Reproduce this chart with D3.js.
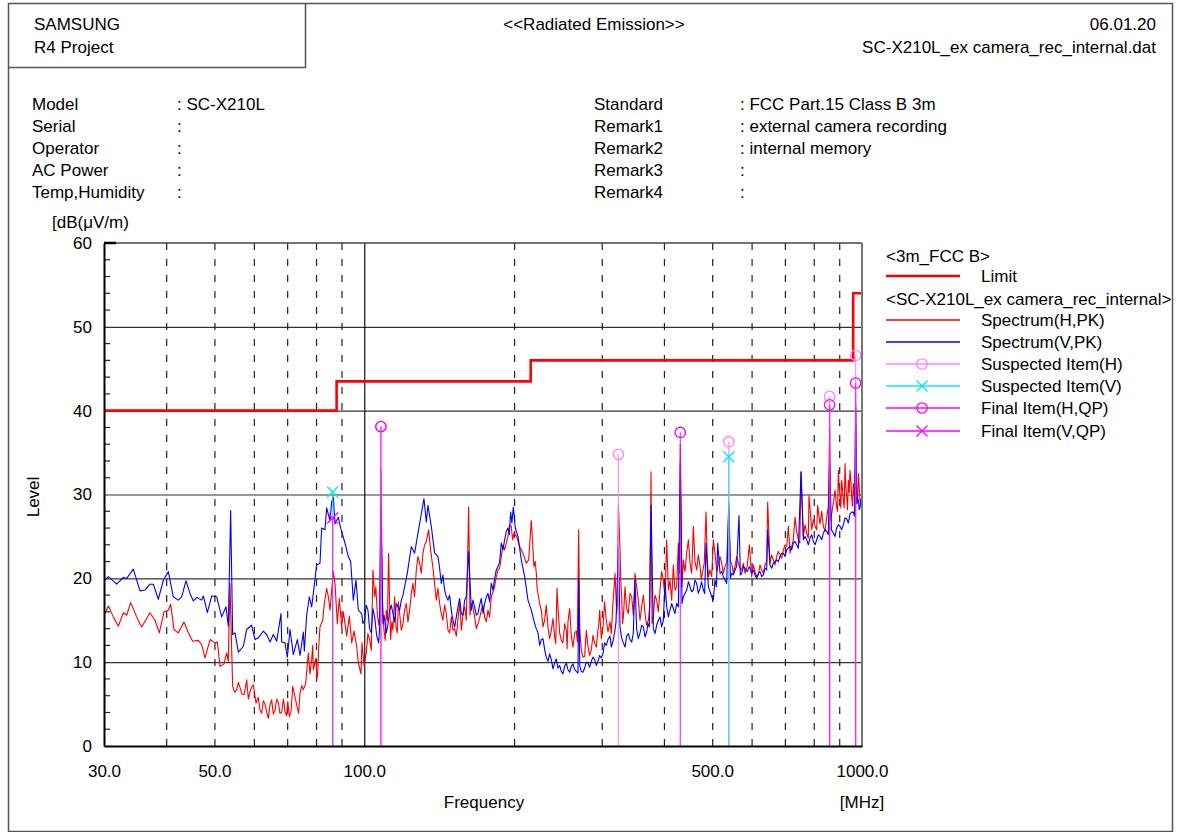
<!DOCTYPE html>
<html><head><meta charset="utf-8">
<script src="https://cdn.jsdelivr.net/npm/d3@7"></script>
<style>
html,body{margin:0;padding:0;background:#fff;}
svg text{font-family:"Liberation Sans",Arial,sans-serif;font-size:17px;fill:#000;}
</style></head>
<body>
<svg id="c" width="1180" height="832"></svg>
<script>
// ---------- data ----------
const limitFreq  = [30, 88, 88, 216, 216, 960, 960, 1000];
const limitLevel = [40, 40, 43.5, 43.5, 46, 46, 54, 54];

const yTickValues = [0, 10, 20, 30, 40, 50, 60];
const xTickValues = [30, 50, 100, 500, 1000];
const dashedGridFreq = [40, 50, 60, 70, 80, 90, 200, 300, 400, 500, 600, 700, 800, 900];
const solidGridFreq = [100];

// Spectrum(H,PK) [MHz, dB(uV/m)]
const spectrumH = [
[30.14,15.8],[30.61,16.7],[31.32,15.4],[32.06,14.3],[32.81,15.9],[33.32,15.6],[33.94,17.1],[34.89,15.4],[35.71,14.2],[37.11,15.9],[37.98,15.0],[38.75,13.5],[39.60,16.0],[40.40,16.2],[40.84,16.9],[41.47,13.9],[42.31,13.5],[43.43,14.8],[44.32,13.5],[45.21,12.5],[46.41,12.6],[47.13,12.1],[47.87,10.5],[48.99,12.7],[50.13,12.3],[50.68,12.4],[51.31,9.5],[52.27,9.8],[52.91,11.1],[53.32,10.1],[53.73,19.4],[54.40,7.1],[55.42,6.7],[56.28,7.0],[57.33,6.1],[58.04,7.9],[58.95,6.5],[59.86,7.3],[60.61,5.1],[61.74,4.3],[62.70,5.4],[64.16,3.3],[65.16,5.5],[66.17,4.3],[67.20,5.2],[68.25,4.0],[69.31,4.1],[70.71,3.5],[71.81,7.1],[73.15,4.9],[74.29,6.3],[75.44,6.7],[76.26,7.5],[77.21,11.1],[78.41,10.3],[79.01,9.1],[79.99,10.5],[80.62,8.7],[81.48,14.2],[82.50,15.0],[83.14,17.0],[84.04,18.8],[84.69,17.8],[85.34,16.2],[86.67,20.8],[87.34,19.4],[88.29,14.6],[89.11,17.6],[90.08,14.2],[90.78,16.0],[92.19,13.1],[93.33,15.5],[94.35,12.3],[95.37,13.7],[96.56,11.9],[97.30,9.9],[98.51,8.6],
[54.9,6.4],[55.85,7.6],[56.8,6.2],[57.7,6.9],[58.5,5.6],[59.4,7.0],[61.2,5.8],[62.2,3.9],[63.2,5.0],[63.7,4.0],[64.66,4.9],[65.67,3.8],[66.69,5.6],[67.7,3.9],[68.8,5.6],[69.8,3.6],[70.2,5.3],[71.3,4.2],[72.5,6.0],[73.8,3.9],[74.9,7.2],[76.7,9.2],[77.8,8.6],[78.8,12.0],[80.3,7.9],[81.0,11.8],
[98.94,12.3],[100.95,11.1],[102.52,12.7],[104.11,21.0],[104.92,17.8],[106.22,15.8],[107.37,15.4],[108.0,33.0],[109.55,13.8],[110.73,16.2],[111.94,23.0],[112.98,12.7],[114.20,13.8],[115.09,17.8],[116.51,13.5],[117.78,15.8],[119.61,14.6],[121.47,17.0],[123.35,16.2],[125.27,19.4],[127.22,21.0],[129.20,21.8],[131.21,23.0],[133.24,24.4],[134.69,25.8],[135.94,23.4],[137.42,21.2],[139.55,17.4],[141.72,17.0],[143.93,15.0],[146.16,15.8],[148.44,13.5],[150.74,13.8],[153.09,13.1],[155.47,17.0],[157.88,15.8],[160.34,15.0],[162.08,28.5],[164.09,17.0],[166.64,15.4],[169.23,14.6],[171.86,16.2],[174.53,15.4],[177.24,16.2],[180.00,17.8],[182.79,19.0],[185.63,21.0],[188.52,22.6],[191.44,23.4],[194.42,25.0],[197.44,26.2],[199.89,25.4],[202.37,25.0],[205.20,23.8],[208.39,23.0],[211.63,21.8],[213.93,22.2],[216.58,26.9],[219.27,21.4],[221.65,20.6],[223.37,18.2],[226.84,16.2],[230.36,15.0],[233.94,14.2],[237.58,13.8],[241.27,13.1],[243.89,18.8],[246.92,13.5],[250.75,12.3],[254.65,13.8],[256.62,14.8],[260.61,13.1],[264.66,13.5],[266.71,13.7],[269.60,25.8],[272.95,11.5],[277.19,10.7],[281.50,11.9],[285.87,11.5],[290.31,12.3],[294.83,13.8],[297.11,16.2],[301.73,14.2],[306.41,15.0],
[99.9,9.6],[101.7,13.4],[103.3,11.4],[105.5,19.0],[106.9,14.4],[108.8,16.8],[110.2,12.6],[111.3,15.0],[112.4,17.6],[113.6,14.8],[115.8,14.2],[117.1,17.2],[118.7,13.8],[120.5,16.2],[122.4,14.8],[124.3,18.2],[126.2,17.8],[128.2,22.6],[130.2,20.6],[132.2,24.0],
[140.6,18.8],[142.8,15.8],[145.0,16.8],[147.3,13.8],[149.6,15.4],[151.9,14.0],[154.3,15.2],[156.7,13.8],[159.1,16.6],[163.1,15.6],[165.3,16.6],[167.9,14.0],[170.5,15.2],[173.2,16.8],[175.9,14.8],[178.6,15.4],[181.4,18.4],[184.2,20.2],[187.1,21.2],[190.0,24.0],[192.9,24.2],[195.9,26.4],[198.6,24.6],
[220.5,22.0],[222.5,18.8],[225.1,17.0],[228.6,14.2],[232.1,16.8],[235.7,12.8],[239.4,15.2],[242.5,12.2],[245.0,16.6],[248.8,12.6],[252.7,14.6],[255.6,11.6],[258.6,16.4],[262.6,11.8],[268.0,12.4],[271.0,14.0],[275.0,10.6],[279.3,13.8],[283.7,10.8],[288.1,13.2],[292.6,11.8],[296.0,14.6],[299.4,12.8],[304.0,17.2],[308.8,13.6],
[311.7,14.8],[315.6,16.6],[319.0,20.6],[321.5,15.8],[324.0,28.7],[326.5,23.4],[329.0,17.8],[331.5,15.4],[334.1,19.0],[339.3,15.8],[344.6,17.8],[349.9,20.6],[355.3,17.4],[360.9,16.6],[366.5,15.8],[372.2,15.0],[376.8,32.7],[380.9,15.4],[386.8,17.4],[392.8,18.6],[398.9,19.8],[405.1,24.6],[408.3,18.6],[414.6,17.4],[421.0,18.6],[427.6,24.2],[431.5,36.0],[437.6,22.2],[444.4,23.0],[451.3,21.8],[458.3,26.2],[465.4,21.0],[472.7,21.4],[478.5,20.8],[486.0,27.9],[491.3,20.2],[498.9,20.2],[506.6,23.0],[514.5,21.8],[522.5,21.8],[530.6,21.4],[540.0,29.0],[547.3,21.8],[555.8,21.4],[564.4,21.8],[573.2,21.0],[582.1,20.6],[593.9,24.0],[600.3,20.2],[609.6,20.8],[619.1,20.4],[628.7,21.0],[638.5,21.6],[646.4,29.1],[653.4,21.8],[663.6,22.2],[673.9,22.6],[684.4,22.8],[695.0,23.4],[705.8,23.8],[711.3,26.2],[722.3,23.8],[733.6,27.3],[745.0,24.6],[754.2,32.7],[762.4,25.0],[774.2,25.4],[782.6,29.9],[792.4,25.8],[804.7,26.2],[814.6,28.7],[823.5,26.5],[836.3,26.2],[849.3,27.3],[861.0,38.0],[869.1,27.7],[882.7,30.5],[889.5,28.5],[896.4,32.9],[903.3,29.7],[910.3,31.7],[917.4,29.3],[924.5,33.7],[931.6,29.7],[938.8,31.7],[946.1,32.9],[953.4,29.7],[960.8,31.3],[968.2,29.0],[971.0,41.0],[975.7,30.7],[983.3,32.5],[990.9,29.3],[998.6,30.0],
[313.6,13.4],[317.2,18.4],[322.7,17.0],[327.7,19.6],[330.2,14.6],[332.8,17.0],[336.7,16.4],[341.9,18.2],[347.2,15.6],[352.6,19.0],[358.1,15.0],[363.7,18.0],[369.3,14.4],[374.5,16.6],[378.6,14.6],[383.8,18.0],[389.8,16.0],[395.8,20.8],[402.0,17.6],[411.4,19.8],[417.8,21.6],[424.3,19.0],[429.6,20.6],[434.9,19.0],
[441.0,20.8],[448.0,24.6],[454.8,20.6],[461.8,22.0],[469.0,22.8],[475.6,19.8],[482.0,21.8],[488.6,22.6],[495.0,21.0],[502.7,24.6],[510.6,20.8],[518.5,22.6],[526.6,20.6],[535.0,22.0],[544.0,22.0],[551.5,20.6],[560.0,22.6],[568.6,21.2],[577.6,21.8],[587.9,21.4],[605.0,21.6],[614.3,20.2],[623.9,21.6],[633.6,20.6],[643.4,22.0],[658.5,22.8],[668.7,21.6],[679.1,23.2],[689.7,22.4],[700.4,24.0],[716.8,23.0],[727.9,24.6],[739.2,25.6],[750.0,24.2],[768.3,26.4],[780.1,24.8],[798.5,27.0],[810.9,25.8],[829.9,28.0],[842.8,25.6],[855.9,28.6],[865.0,26.8],[875.9,29.0],[893.0,28.0],[900.0,30.8],[906.8,28.4],[914.0,30.6],[921.0,28.4],[928.0,31.0],[935.2,28.2],[942.4,30.2],[950.0,31.6],[957.0,28.6],[964.5,30.0],[979.5,29.0],[987.1,31.0],[994.7,28.6]
];

// Spectrum(V,PK) [MHz, dB(uV/m)]
const spectrumV = [
[30.14,19.8],[30.61,20.2],[31.81,19.3],[32.81,20.1],[33.32,20.0],[34.36,21.1],[35.44,18.5],[36.27,18.6],[37.11,19.3],[37.69,19.3],[38.57,17.5],[39.48,19.8],[40.40,20.8],[41.34,17.8],[42.31,17.4],[42.97,17.8],[43.84,19.7],[44.66,18.2],[45.35,17.3],[46.06,17.7],[47.13,17.4],[47.50,17.9],[48.39,15.9],[49.37,17.9],[50.52,17.8],[51.71,15.4],[52.75,16.6],[53.32,14.3],[53.90,28.1],[54.40,13.3],[55.00,13.5],[55.85,11.2],[57.16,11.9],[58.04,13.9],[59.40,14.4],[60.33,12.7],[61.26,12.9],[62.70,13.7],[63.67,13.3],[64.66,12.4],[65.67,13.3],[66.69,12.5],[68.04,15.8],[68.25,12.4],[69.31,12.3],[70.06,10.6],[70.93,13.9],[72.03,10.9],[73.38,12.7],[74.29,10.8],[75.44,13.6],[75.79,11.3],[76.61,15.6],[77.56,17.8],[78.41,16.6],[79.01,18.2],[80.24,21.6],[81.48,21.8],[82.12,26.0],[83.40,25.8],[84.04,28.4],[85.34,26.9],[86.00,29.1],[86.67,29.7],[87.34,26.5],[88.70,27.3],[89.67,26.0],[91.48,24.2],[92.90,22.6],[93.91,22.0],[95.07,17.4],[96.25,19.8],[97.30,16.2],[98.81,15.8],
[100.17,15.0],[101.73,16.2],[103.31,13.5],[104.92,15.4],[106.88,12.3],[108.0,28.3],[109.04,14.6],[110.73,13.5],[112.46,16.2],[114.20,15.8],[115.98,17.0],[117.78,16.2],[119.61,18.0],[122.03,20.6],[124.31,23.8],[126.24,23.0],[128.21,25.4],[130.20,27.7],[131.82,29.5],[133.24,26.7],[134.28,28.7],[136.36,26.2],[138.48,23.0],[140.64,22.6],[142.82,19.4],[145.04,18.6],[147.30,17.4],[149.59,16.2],[151.91,14.2],[154.27,16.6],[156.67,15.8],[159.10,17.4],[162.08,23.2],[164.09,16.2],[166.64,16.6],[169.23,15.8],[171.86,17.6],[174.53,17.0],[177.24,18.2],[180.00,19.4],[182.79,20.0],[185.63,21.4],[188.52,24.2],[191.44,24.6],[194.42,26.0],[196.83,27.9],[199.28,28.5],[201.13,26.0],[203.62,25.0],[206.79,22.2],[210.00,20.2],[213.27,17.4],[216.58,16.2],[219.95,14.6],[223.37,13.5],[226.84,12.7],[230.36,11.5],[233.94,10.1],[237.58,10.3],[241.27,9.9],[245.02,9.3],[248.83,8.9],[252.69,9.5],[256.62,9.1],[260.61,9.5],[264.66,9.1],[268.77,8.7],[269.60,20.0],[272.95,8.9],[277.19,9.3],[281.50,9.9],[285.87,10.1],[290.31,10.3],[294.83,10.1],[299.41,10.5],[304.06,12.3],[308.78,12.7],
[99.4,14.6],[100.9,16.8],[102.5,14.0],[104.1,16.4],[105.9,13.2],[107.4,14.2],[109.6,15.6],[111.5,14.4],[113.3,16.8],[115.1,14.8],[116.9,16.6],[118.7,17.4],
[141.7,21.2],[143.9,20.4],[146.2,17.8],[148.4,18.0],[150.7,15.0],[153.1,15.4],[155.5,17.6],[157.9,15.6],[160.3,17.8],[165.3,17.4],[167.9,15.6],[170.5,16.8],[173.2,15.8],[175.9,17.8],[178.6,17.2],[181.4,18.6],[184.2,21.0],[187.1,22.0],[190.0,23.4],[192.9,25.6],[195.6,25.2],[198.0,26.6],
[221.6,14.0],[225.1,12.0],[228.6,12.8],[232.1,10.6],[235.7,11.0],[239.4,9.2],[243.1,10.4],[246.9,9.6],[250.7,8.6],[254.6,9.9],[258.6,8.8],[262.6,9.8],[266.7,8.9],[271.0,9.6],[275.0,8.8],[279.3,10.0],[283.7,9.4],[288.1,10.6],[292.6,9.6],[297.1,10.8],[301.7,11.0],[306.4,12.0],
[311.7,13.1],[316.5,12.7],[320.5,14.8],[324.0,24.0],[326.5,14.2],[331.5,12.3],[336.7,13.1],[341.9,12.7],[347.2,13.5],[349.9,19.8],[352.6,13.9],[358.1,13.5],[363.7,14.2],[369.3,13.6],[373.9,14.2],[376.8,28.7],[380.9,14.0],[386.8,14.4],[392.8,15.4],[398.9,15.0],[402.0,19.4],[405.1,16.6],[411.4,16.2],[417.8,16.4],[424.3,17.0],[431.5,33.8],[437.6,17.8],[444.4,18.6],[451.3,19.0],[458.3,18.6],[465.4,19.4],[472.7,18.8],[480.0,18.6],[486.0,24.2],[491.3,19.0],[498.9,17.8],[506.6,19.8],[512.9,24.2],[518.5,20.6],[526.6,20.2],[534.7,19.4],[540.0,28.5],[547.3,20.6],[555.8,21.0],[566.1,27.5],[573.2,20.6],[582.1,21.2],[593.9,21.4],[600.3,20.6],[609.6,20.4],[619.1,20.6],[628.7,20.2],[638.5,21.2],[646.4,25.8],[653.4,21.6],[663.6,21.8],[673.9,22.2],[684.4,22.6],[695.0,23.0],[705.8,23.4],[716.8,23.8],[727.9,24.2],[739.2,24.0],[754.2,32.7],[762.4,24.6],[774.2,24.6],[786.3,24.8],[798.5,24.4],[810.9,24.6],[823.5,25.0],[836.3,25.4],[849.3,25.6],[861.0,34.0],[875.9,25.4],[889.5,26.0],[903.3,26.2],[917.4,26.4],[931.6,27.1],[946.1,27.7],[960.8,27.9],[971.0,40.5],[975.7,28.9],[983.3,29.3],[990.9,28.5],[998.6,28.9],[1000,35.0],
[313.6,11.8],[318.5,13.6],[328.9,12.9],[334.1,11.8],[339.3,13.4],[344.6,12.4],[355.3,12.8],[360.9,14.4],[366.5,13.0],[371.6,14.6],[383.8,13.4],[389.8,15.0],[395.8,14.2],[408.3,15.4],[414.6,17.0],[421.0,15.8],[427.6,16.6],[434.9,17.0],
[441.0,18.2],[448.0,19.6],[454.8,18.4],[461.8,19.8],[469.0,18.2],[476.0,19.6],[483.0,18.2],[494.0,18.6],[502.7,17.4],[510.0,19.0],[522.5,20.8],[530.6,19.8],[544.0,20.0],[551.5,20.4],[560.0,21.4],[569.6,20.4],[577.6,21.4],[587.9,20.8],[605.0,21.0],[614.3,20.0],[623.9,20.8],[633.6,20.4],[643.4,21.0],[658.5,21.2],[668.7,22.0],[679.1,22.0],[689.7,23.0],[700.4,22.6],[711.3,23.6],[722.3,23.4],[733.6,24.4],[745.0,23.6],[768.3,25.0],[780.1,24.0],[792.4,25.2],[804.7,24.0],[817.2,25.2],[829.9,24.6],[842.8,25.8],[855.9,25.2],[868.0,25.8],[882.7,25.0],[896.4,26.4],[910.3,25.8],[924.5,27.2],[938.8,26.6],[953.4,27.9],[966.0,27.4],[979.5,29.6],[987.1,28.2],[994.7,29.4]
];

const suspectedH = [[108.0, 38.1], [324.0, 34.8], [540.0, 36.3], [861.0, 41.7], [971.0, 46.6]];
const suspectedV = [[86.4, 30.3], [540.0, 34.5]];
const finalH = [[108.0, 38.1], [431.5, 37.4], [861.0, 40.7], [971.0, 43.3]];
const finalV = [[86.4, 27.2]];

const headerLeft = ["SAMSUNG", "R4 Project"];
const headerTitle = "<<Radiated Emission>>";
const headerRight = ["06.01.20", "SC-X210L_ex camera_rec_internal.dat"];
const infoLeftLabels = ["Model", "Serial", "Operator", "AC Power", "Temp,Humidity"];
const infoLeftValues = [": SC-X210L", ":", ":", ":", ":"];
const infoRightLabels = ["Standard", "Remark1", "Remark2", "Remark3", "Remark4"];
const infoRightValues = [": FCC Part.15 Class B 3m", ": external camera recording", ": internal memory", ":", ":"];

const COL = {H:"#ff0000", V:"#0000ff", limit:"#ff0000", susH:"#ff80ff", susV:"#00e8ff", fin:"#ff00ff"};

// ---------- drawing ----------
const svg = d3.select("#c");
const X0 = 104, X1 = 862, Y0 = 746, Y1 = 243;
const x = d3.scaleLog().domain([30, 1000]).range([X0, X1]);
const y = d3.scaleLinear().domain([0, 60]).range([Y0, Y1]);

// frame
svg.append("rect").attr("x", 8.5).attr("y", 3.5).attr("width", 1164).attr("height", 828)
  .attr("fill", "none").attr("stroke", "#555").attr("stroke-width", 1.5);
svg.append("path").attr("d", "M8.5,67.5H305.5V3.5").attr("fill", "none").attr("stroke", "#555").attr("stroke-width", 1.5);

// header
svg.selectAll("text.hl").data(headerLeft).join("text").attr("class", "hl")
  .attr("x", 34).attr("y", (d, i) => 30 + i * 23).text(d => d);
svg.append("text").attr("x", 594).attr("y", 30).attr("text-anchor", "middle").text(headerTitle);
svg.selectAll("text.hr").data(headerRight).join("text").attr("class", "hr")
  .attr("x", 1156).attr("y", (d, i) => 30 + i * 23).attr("text-anchor", "end").text(d => d);

// info block
const rowY = i => 110 + i * 22;
svg.selectAll("text.il").data(infoLeftLabels).join("text").attr("class", "il").attr("x", 32).attr("y", (d, i) => rowY(i)).text(d => d);
svg.selectAll("text.iv").data(infoLeftValues).join("text").attr("class", "iv").attr("x", 177).attr("y", (d, i) => rowY(i)).text(d => d);
svg.selectAll("text.rl").data(infoRightLabels).join("text").attr("class", "rl").attr("x", 594).attr("y", (d, i) => rowY(i)).text(d => d);
svg.selectAll("text.rv").data(infoRightValues).join("text").attr("class", "rv").attr("x", 740).attr("y", (d, i) => rowY(i)).text(d => d);

// horizontal grid
const gy = svg.append("g").attr("transform", `translate(${X0},0)`)
  .call(d3.axisLeft(y).tickValues(yTickValues.filter(v => v > 0 && v < 60)).tickSize(-(X1 - X0)).tickFormat(""));
gy.select(".domain").remove();
gy.selectAll("line").attr("stroke", "#333").attr("stroke-width", 1.2);

// vertical grid
const gxd = svg.append("g").attr("transform", `translate(0,${Y0})`)
  .call(d3.axisBottom(x).tickValues(dashedGridFreq).tickSize(-(Y0 - Y1)).tickFormat(""));
gxd.select(".domain").remove();
gxd.selectAll("line").attr("stroke", "#222").attr("stroke-width", 1.2).attr("stroke-dasharray", "7,9");
const gxs = svg.append("g").attr("transform", `translate(0,${Y0})`)
  .call(d3.axisBottom(x).tickValues(solidGridFreq).tickSize(-(Y0 - Y1)).tickFormat(""));
gxs.select(".domain").remove();
gxs.selectAll("line").attr("stroke", "#111").attr("stroke-width", 1.2);

// minor y ticks (every 2 dB)
const minorY = d3.range(0, 61, 2).filter(v => v % 10 !== 0);
svg.append("g").selectAll("line").data(minorY).join("line")
  .attr("x1", X0).attr("x2", X0 + 6).attr("y1", d => y(d)).attr("y2", d => y(d))
  .attr("stroke", "#222").attr("stroke-width", 1.2);

const limitData = limitFreq.map((f, i) => [f, limitLevel[i]]);
const line = d3.line().x(d => x(d[0])).y(d => y(d[1]));
const byFreq = (a, b) => a[0] - b[0];

// spectra
svg.append("path").datum(d3.sort(spectrumH, byFreq)).attr("d", line).attr("fill", "none").attr("stroke", COL.H).attr("stroke-width", 1.1).attr("stroke-linejoin", "round");
svg.append("path").datum(d3.sort(spectrumV, byFreq)).attr("d", line).attr("fill", "none").attr("stroke", COL.V).attr("stroke-width", 1.1).attr("stroke-linejoin", "round");

// item stems
function stems(data, color, op) {
  svg.append("g").selectAll("line").data(data).join("line")
    .attr("x1", d => x(d[0])).attr("x2", d => x(d[0])).attr("y1", y(0)).attr("y2", d => y(d[1]))
    .attr("stroke", color).attr("stroke-width", 1.3).attr("opacity", op);
}
stems(suspectedH, COL.susH, 0.85);
stems(suspectedV, COL.susV, 0.75);
stems(finalH, COL.fin, 0.75);
stems(finalV, COL.fin, 0.75);

svg.append("path").datum(limitData).attr("d", line).attr("fill", "none").attr("stroke", COL.limit).attr("stroke-width", 2.6);

// markers
function circles(data, color) {
  svg.append("g").selectAll("circle").data(data).join("circle")
    .attr("cx", d => x(d[0])).attr("cy", d => y(d[1])).attr("r", 5.2)
    .attr("fill", "none").attr("stroke", color).attr("stroke-width", 1.3);
}
function crosses(data, color) {
  svg.append("g").selectAll("path").data(data).join("path")
    .attr("d", d => { const cx = x(d[0]), cy = y(d[1]), s = 5.5; return `M${cx - s},${cy - s}L${cx + s},${cy + s}M${cx - s},${cy + s}L${cx + s},${cy - s}`; })
    .attr("stroke", color).attr("stroke-width", 1.3).attr("fill", "none");
}
circles(suspectedH, COL.susH);
crosses(suspectedV, COL.susV);
circles(finalH, COL.fin);
crosses(finalV, COL.fin);

// plot frame
svg.append("line").attr("x1", X0).attr("x2", X1).attr("y1", Y1).attr("y2", Y1).attr("stroke", "#444").attr("stroke-width", 1.3);
svg.append("line").attr("x1", X1).attr("x2", X1).attr("y1", Y1).attr("y2", Y0).attr("stroke", "#777").attr("stroke-width", 2);

// axes with labels
const ay = svg.append("g").attr("transform", `translate(${X0},0)`)
  .call(d3.axisLeft(y).tickValues(yTickValues).tickSize(0).tickPadding(12).tickFormat(d3.format("d")));
ay.select(".domain").attr("stroke", "#000").attr("stroke-width", 2);
ay.selectAll("text").style("font-size", "17px").style("font-family", "Liberation Sans, Arial, sans-serif");
svg.append("line").attr("x1", X0).attr("x2", X0 + 12).attr("y1", Y1).attr("y2", Y1).attr("stroke", "#000").attr("stroke-width", 2.5);

const ax = svg.append("g").attr("transform", `translate(0,${Y0})`)
  .call(d3.axisBottom(x).tickValues(xTickValues).tickSize(0).tickPadding(19).tickFormat(d3.format(".1f")));
ax.select(".domain").attr("stroke", "#000").attr("stroke-width", 2);
ax.selectAll("text").style("font-size", "17px").style("font-family", "Liberation Sans, Arial, sans-serif");

svg.append("text").attr("x", 52).attr("y", 228).text("[dB(μV/m)");
svg.append("text").attr("transform", "translate(39,497) rotate(-90)").attr("text-anchor", "middle").text("Level");
svg.append("text").attr("x", 484).attr("y", 808).attr("text-anchor", "middle").text("Frequency");
svg.append("text").attr("x", 862).attr("y", 808).attr("text-anchor", "middle").text("[MHz]");

// legend
const LX0 = 886, LX1 = 960, LM = 922, LT = 981;
svg.append("text").attr("x", LX0).attr("y", 262).text("<3m_FCC B>");
svg.append("line").attr("x1", LX0).attr("x2", LX1).attr("y1", 276).attr("y2", 276).attr("stroke", COL.limit).attr("stroke-width", 2.6);
svg.append("text").attr("x", LT).attr("y", 282).text("Limit");
svg.append("text").attr("x", LX0).attr("y", 305).text("<SC-X210L_ex camera_rec_internal>");
const legendItems = [
  {label: "Spectrum(H,PK)", color: COL.H, mark: null, yy: 320},
  {label: "Spectrum(V,PK)", color: COL.V, mark: null, yy: 342},
  {label: "Suspected Item(H)", color: COL.susH, mark: "o", yy: 364},
  {label: "Suspected Item(V)", color: COL.susV, mark: "x", yy: 386},
  {label: "Final Item(H,QP)", color: COL.fin, mark: "o", yy: 408},
  {label: "Final Item(V,QP)", color: COL.fin, mark: "x", yy: 431}
];
const lg = svg.append("g").selectAll("g").data(legendItems).join("g");
lg.append("line").attr("x1", LX0).attr("x2", LX1).attr("y1", d => d.yy).attr("y2", d => d.yy).attr("stroke", d => d.color).attr("stroke-width", 1.3);
lg.filter(d => d.mark === "o").append("circle").attr("cx", LM).attr("cy", d => d.yy).attr("r", 5.2).attr("fill", "none").attr("stroke", d => d.color).attr("stroke-width", 1.3);
lg.filter(d => d.mark === "x").append("path").attr("d", d => `M${LM - 5.5},${d.yy - 5.5}L${LM + 5.5},${d.yy + 5.5}M${LM - 5.5},${d.yy + 5.5}L${LM + 5.5},${d.yy - 5.5}`).attr("stroke", d => d.color).attr("stroke-width", 1.3);
lg.append("text").attr("x", LT).attr("y", d => d.yy + 6).text(d => d.label);
</script>
</body></html>
